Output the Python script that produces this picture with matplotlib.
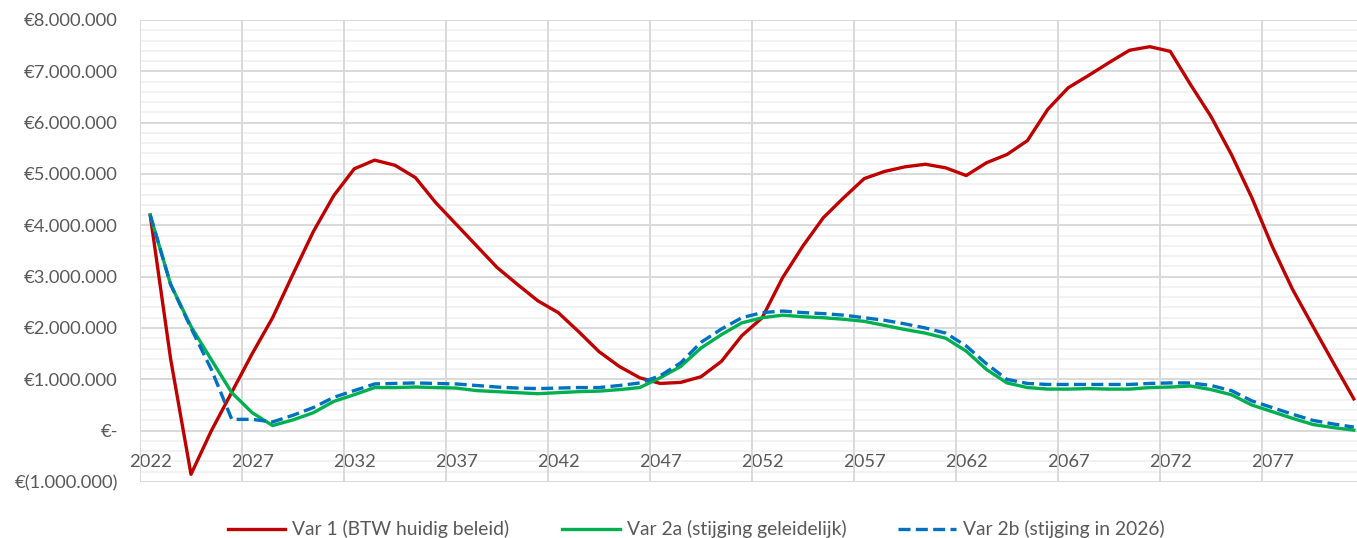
import numpy as np
import matplotlib
matplotlib.use("Agg")
import matplotlib.pyplot as plt
from matplotlib.ticker import FuncFormatter, MultipleLocator

plt.rcParams['font.family'] = ['Lato', 'DejaVu Sans']

years = list(range(2022, 2082))

# Var 1 (BTW huidig beleid)
var1 = [4.20, 1.40, -0.85, 0.00, 0.75, 1.50, 2.20, 3.05, 3.88, 4.58,
        5.10, 5.27, 5.17, 4.93, 4.44, 4.02, 3.60, 3.18, 2.85, 2.53,
        2.30, 1.93, 1.54, 1.25, 1.03, 0.92, 0.94, 1.05, 1.35, 1.85,
        2.20, 2.98, 3.60, 4.15, 4.54, 4.91, 5.05, 5.14, 5.19, 5.12,
        4.97, 5.22, 5.38, 5.65, 6.26, 6.68, 6.92, 7.17, 7.41, 7.48,
        7.39, 6.74, 6.12, 5.38, 4.54, 3.59, 2.75, 2.03, 1.32, 0.62]

# Var 2a (stijging geleidelijk)
var2a = [4.20, 2.85, 2.03, 1.38, 0.74, 0.35, 0.10, 0.21, 0.35, 0.57,
         0.70, 0.84, 0.84, 0.85, 0.84, 0.83, 0.78, 0.76, 0.74, 0.72,
         0.74, 0.76, 0.77, 0.80, 0.84, 1.03, 1.25, 1.61, 1.87, 2.10,
         2.20, 2.25, 2.22, 2.20, 2.17, 2.13, 2.05, 1.97, 1.90, 1.80,
         1.55, 1.19, 0.93, 0.84, 0.81, 0.81, 0.82, 0.81, 0.81, 0.84,
         0.85, 0.87, 0.80, 0.70, 0.50, 0.37, 0.24, 0.12, 0.06, 0.01]

# Var 2b (stijging in 2026)
var2b = [4.20, 2.85, 2.00, 1.19, 0.22, 0.22, 0.17, 0.30, 0.45, 0.65,
         0.78, 0.91, 0.92, 0.93, 0.92, 0.91, 0.88, 0.85, 0.83, 0.82,
         0.83, 0.84, 0.84, 0.88, 0.93, 1.07, 1.32, 1.72, 1.98, 2.20,
         2.30, 2.33, 2.30, 2.28, 2.25, 2.20, 2.15, 2.08, 2.00, 1.90,
         1.65, 1.30, 1.00, 0.92, 0.90, 0.90, 0.90, 0.90, 0.90, 0.92,
         0.93, 0.93, 0.88, 0.78, 0.58, 0.45, 0.32, 0.20, 0.13, 0.07]

labels = ["Var 1 (BTW huidig beleid)", "Var 2a (stijging geleidelijk)",
          "Var 2b (stijging in 2026)"]

var1 = np.array(var1) * 1e6
var2a = np.array(var2a) * 1e6
var2b = np.array(var2b) * 1e6


def euro(v, pos):
    if abs(v) < 1:
        return "€-"
    s = "{:,.0f}".format(abs(v)).replace(",", ".")
    if v < 0:
        return "€(" + s + ")"
    return "€" + s


fig = plt.figure(figsize=(13.57, 5.38), dpi=100)
ax = fig.add_axes([140 / 1357, 56 / 538, 1217 / 1357, 462 / 538])

ax.plot(years, var1, color="#C00000", lw=2.4, label=labels[0], zorder=3)
ax.plot(years, var2a, color="#00B050", lw=2.4, label=labels[1], zorder=4)
ax.plot(years, var2b, color="#0070C0", lw=2.4, ls=(0, (3.6, 1.6)),
        label=labels[2], zorder=5)

ax.set_xlim(2021.5, 2021.5 + 1217 / 20.4)
ax.set_ylim(-1e6, 8e6)

ax.set_xticks(years[::5])
ax.set_xticks([y - 0.5 for y in years[::5]], minor=True)
ax.yaxis.set_major_locator(MultipleLocator(1e6))
ax.yaxis.set_minor_locator(MultipleLocator(2e5))
ax.yaxis.set_major_formatter(FuncFormatter(euro))

ax.grid(which="major", axis="y", color="#d9d9d9", lw=1.4)
ax.grid(which="minor", axis="y", color="#f2f2f2", lw=1.4)
ax.grid(which="minor", axis="x", color="#d9d9d9", lw=1.4)
ax.set_axisbelow(True)
# vertical grid on top of the faint horizontal minor grid
ax.yaxis.set_zorder(0.4)
ax.xaxis.set_zorder(0.5)

for s in ax.spines.values():
    s.set_visible(False)
ax.spines["bottom"].set_position(("data", 0))

ax.tick_params(axis="both", which="both", length=0, labelsize=13.2,
               labelcolor="#595959")
ax.tick_params(axis="x", pad=17)
ax.tick_params(axis="y", pad=16)

fig.legend(loc="center", bbox_to_anchor=(0.513, 0.016), ncol=3,
           frameon=False, fontsize=13.9, handlelength=3.0,
           handletextpad=0.36, columnspacing=2.7, labelcolor="#595959")

fig.savefig("out.png", dpi=100)
